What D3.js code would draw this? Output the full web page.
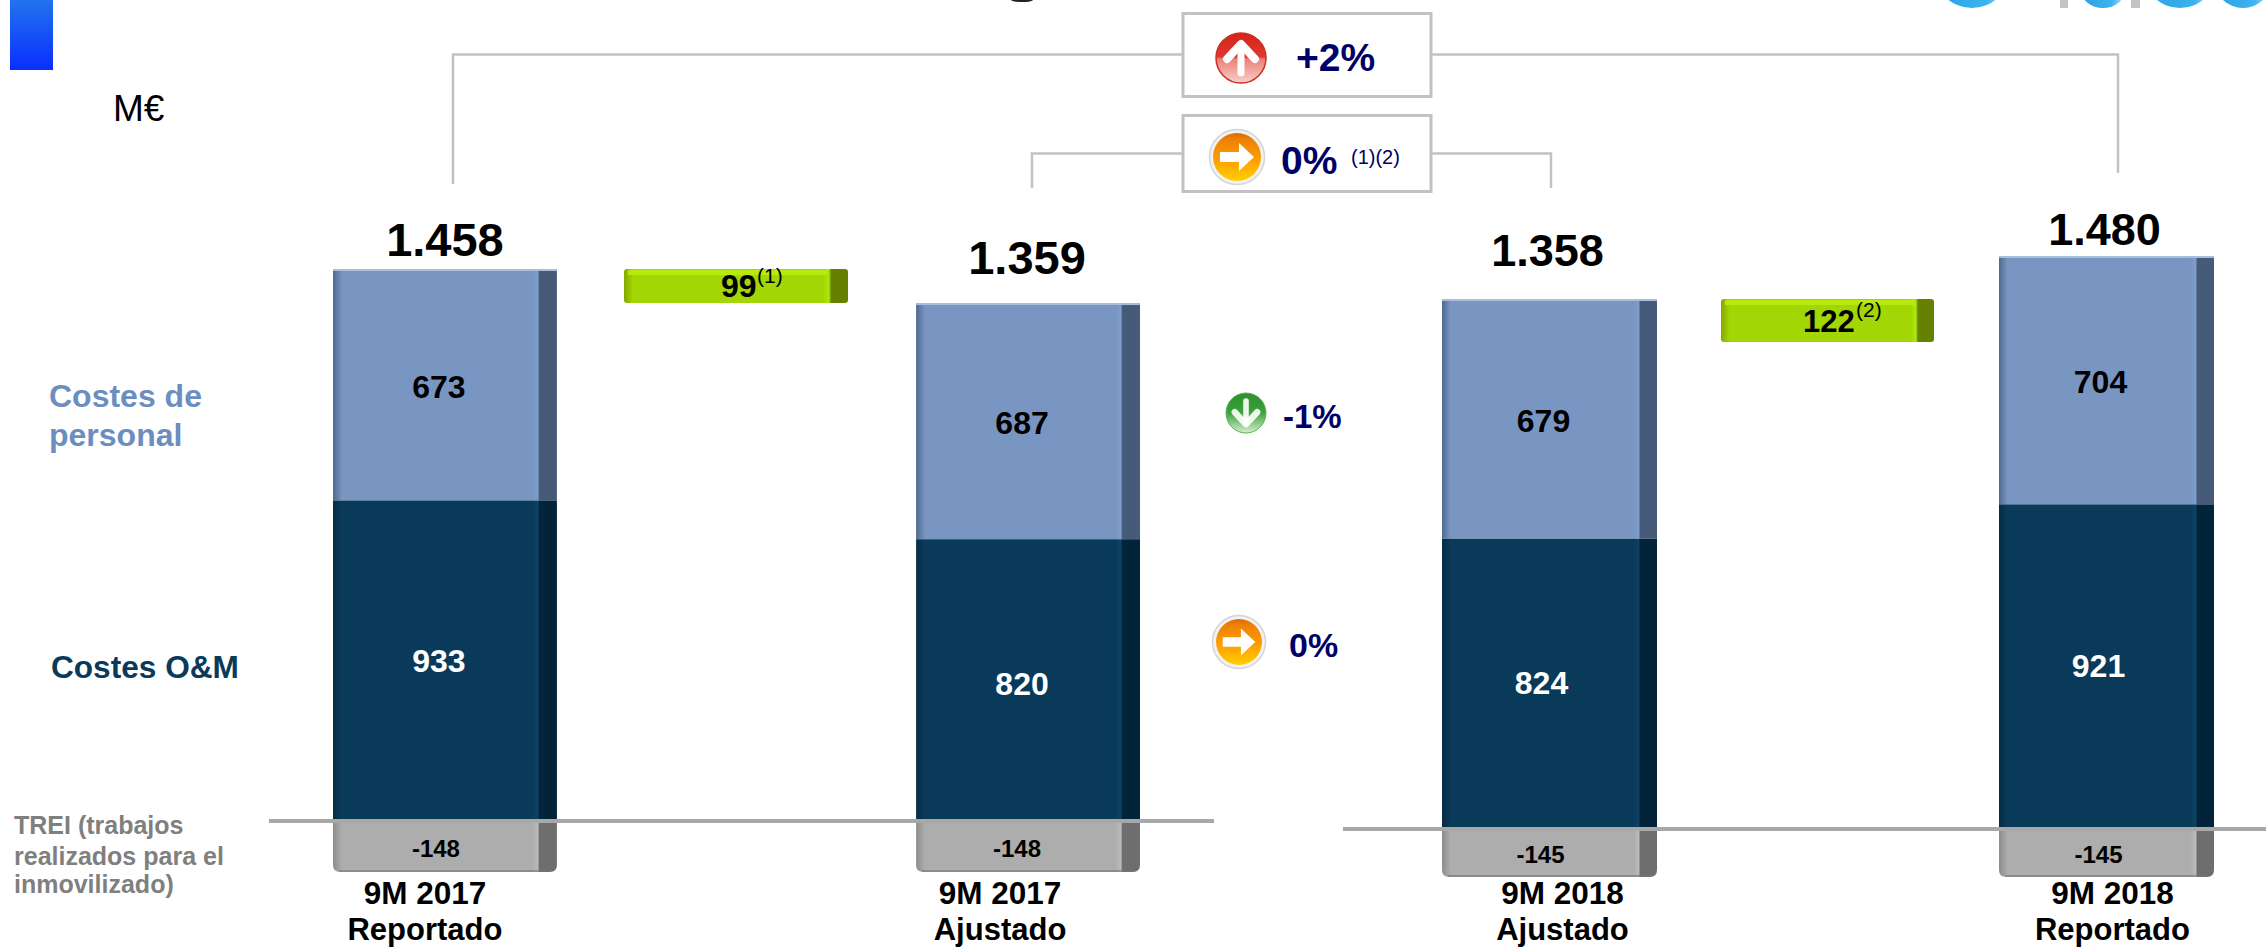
<!DOCTYPE html>
<html><head><meta charset="utf-8">
<script src="https://cdn.jsdelivr.net/npm/d3@7"></script>
<style>
html,body{margin:0;padding:0;background:#fff;overflow:hidden}
text{font-family:"Liberation Sans",Arial,sans-serif}
</style></head><body>
<svg id="c" width="2266" height="947"></svg>
<script>
// ---- data ----
const categories = ["9M 2017 Reportado","9M 2017 Ajustado","9M 2018 Ajustado","9M 2018 Reportado"];
const categoryLine1 = ["9M 2017","9M 2017","9M 2018","9M 2018"];
const categoryLine2 = ["Reportado","Ajustado","Ajustado","Reportado"];
const costesPersonal = [673,687,679,704];
const costesOM = [933,820,824,921];
const trei = [-148,-148,-145,-145];
const totals = ["1.458","1.359","1.358","1.480"];
const adjustments = [99,122];
const adjustmentNotes = ["(1)","(2)"];

// ---- layout (not data) ----
const svg=d3.select("#c");
const defs=svg.append("defs");
const yLeft=d3.scaleLinear().domain([-148,0,1606]).range([872,821,269]);
const yRight=d3.scaleLinear().domain([-145,0,1625]).range([877,829,256]);
const xLeft=d3.scaleBand().domain(categories.slice(0,2)).range([333,1140]).paddingInner(0.616);
const xRight=d3.scaleBand().domain(categories.slice(2)).range([1442,2214]).paddingInner(0.614);
const xOf=c=>xLeft.domain().includes(c)?xLeft(c):xRight(c);
const bwOf=c=>xLeft.domain().includes(c)?xLeft.bandwidth():xRight.bandwidth();
const yOf=i=>i<2?yLeft:yRight;

function bevel(id,base,shade,strip,light){
  const g=defs.append("linearGradient").attr("id",id);
  [[0,shade],[0.04,base],[0.89,base],[0.915,light],[0.922,strip],[1,strip]]
   .forEach(s=>g.append("stop").attr("offset",s[0]).attr("stop-color",s[1]));
}
bevel("gP","#7896C1","#4F6A90","#465B7A","#7E9DCB");
bevel("gO","#0A3A5A","#062C46","#02243A","#0C4266");
bevel("gT","#ADADAD","#8C8C8C","#6E6E6E","#BBBBBB");
const gl=defs.append("linearGradient").attr("id","gG");
[[0,"#84A800"],[0.04,"#A2D604"],[0.89,"#A2D604"],[0.915,"#AEE80A"],[0.925,"#668000"],[1,"#668000"]]
 .forEach(s=>gl.append("stop").attr("offset",s[0]).attr("stop-color",s[1]));
const blue=defs.append("linearGradient").attr("id","gB").attr("x2",0).attr("y2",1);
blue.append("stop").attr("offset",0).attr("stop-color","#2273EE");
blue.append("stop").attr("offset",1).attr("stop-color","#0A2FFF");
function vgrad(id,stops){
  const g=defs.append("linearGradient").attr("id",id).attr("x1",0).attr("x2",0).attr("y1",0).attr("y2",1);
  stops.forEach(s=>g.append("stop").attr("offset",s[0]).attr("stop-color",s[1]));
}
vgrad("iR",[[0,"#D4221A"],[0.48,"#E0392F"],[0.52,"#EE8078"],[1,"#F7CFCB"]]);
vgrad("iO",[[0,"#D96A04"],[0.12,"#EE7F04"],[0.6,"#FFA200"],[1,"#FFD000"]]);
vgrad("iG",[[0,"#2C8F2C"],[0.5,"#3DA23A"],[1,"#D6F0D2"]]);
const cyan=defs.append("linearGradient").attr("id","iC");
cyan.append("stop").attr("offset",0).attr("stop-color","#2A9FE2");
cyan.append("stop").attr("offset",0.7).attr("stop-color","#3CB4EE");
cyan.append("stop").attr("offset",1).attr("stop-color","#BFE4F6");

// header fragments
svg.append("rect").attr("x",10).attr("y",0).attr("width",43).attr("height",70).attr("fill","url(#gB)");
svg.append("text").attr("x",113).attr("y",121).attr("font-size",37).attr("fill","#000").text("M€");
svg.append("ellipse").attr("cx",1022).attr("cy",0).attr("rx",11).attr("ry",2).attr("fill","#222");
const logo=svg.append("g");
[[1972,-30.5,38.5],[2180,-29,37],[2243,-21,29]].forEach(c=>logo.append("circle").attr("cx",c[0]).attr("cy",c[1]).attr("r",c[2]).attr("fill","url(#iC)"));
logo.append("ellipse").attr("cx",2103).attr("cy",-10).attr("rx",22).attr("ry",18).attr("fill","url(#iC)");
[[2060,8],[2131,9]].forEach(r=>logo.append("rect").attr("x",r[0]).attr("y",0).attr("width",r[1]).attr("height",8).attr("fill","#C4C4C4"));

// connectors
const conn=svg.append("g").attr("fill","none").attr("stroke","#C2C2C2").attr("stroke-width",2.5);
conn.append("path").attr("d","M453,184V54.5H1182");
conn.append("path").attr("d","M1432,54.5H2118V173");
conn.append("path").attr("d","M1032,188V153.5H1182");
conn.append("path").attr("d","M1432,153.5H1551V188");
[[12,98],[114,193]].forEach(b=>svg.append("rect").attr("x",1183).attr("y",b[0]+1.5).attr("width",248).attr("height",b[1]-b[0]-3)
  .attr("fill","#fff").attr("stroke","#C2C2C2").attr("stroke-width",3));

// stacked bars
const rows=categories.map((c,i)=>({c,i,p:costesPersonal[i],o:costesOM[i],t:trei[i]}));
const bars=svg.append("g");
bars.selectAll("rect.o").data(rows).join("rect").attr("class","o")
  .attr("x",d=>xOf(d.c)).attr("width",d=>bwOf(d.c))
  .attr("y",d=>yOf(d.i)(d.o)).attr("height",d=>yOf(d.i)(0)-yOf(d.i)(d.o)).attr("fill","url(#gO)");
bars.selectAll("rect.p").data(rows).join("rect").attr("class","p")
  .attr("x",d=>xOf(d.c)).attr("width",d=>bwOf(d.c))
  .attr("y",d=>yOf(d.i)(d.o+d.p)).attr("height",d=>yOf(d.i)(d.o)-yOf(d.i)(d.o+d.p)).attr("fill","url(#gP)");
bars.selectAll("rect.h").data(rows).join("rect").attr("class","h")
  .attr("x",d=>xOf(d.c)).attr("width",d=>bwOf(d.c))
  .attr("y",d=>yOf(d.i)(d.o+d.p)).attr("height",2).attr("fill","#A9BEDC");
function treiPath(d){
  const x0=xOf(d.c),x1=x0+bwOf(d.c),y0=yOf(d.i)(0),y1=yOf(d.i)(d.t),r=7;
  const p=d3.path();p.moveTo(x0,y0);p.lineTo(x1,y0);p.lineTo(x1,y1-r);p.quadraticCurveTo(x1,y1,x1-r,y1);
  p.lineTo(x0+r,y1);p.quadraticCurveTo(x0,y1,x0,y1-r);p.closePath();return p.toString();
}
bars.selectAll("path.t").data(rows).join("path").attr("class","t").attr("d",treiPath).attr("fill","url(#gT)");
bars.selectAll("rect.ts").data(rows).join("rect").attr("class","ts")
  .attr("x",d=>xOf(d.c)+6).attr("width",d=>bwOf(d.c)-12)
  .attr("y",d=>yOf(d.i)(d.t)-2).attr("height",2).attr("fill","#777").attr("opacity",.6);

// zero lines
const axisLeft=[269,1214],axisRight=[1343,2266];
[[axisLeft,yLeft],[axisRight,yRight]].forEach(a=>svg.append("line")
  .attr("x1",a[0][0]).attr("x2",a[0][1]).attr("y1",a[1](0)).attr("y2",a[1](0))
  .attr("stroke","#A8A8A8").attr("stroke-width",4));

// adjustment bars
const xAdj=[d3.scaleBand().domain([adjustments[0]]).range([624,848]),d3.scaleBand().domain([adjustments[1]]).range([1721,1934])];
const adjY=[[yLeft,costesPersonal[0]+costesOM[0]],[yRight,costesPersonal[2]+costesOM[2]]];
const adj=svg.append("g");
adjustments.forEach((v,i)=>{
  const [s,top]=adjY[i];
  const y0=s(top),y1=s(top-v),x=xAdj[i](v),w=xAdj[i].bandwidth();
  adj.append("rect").attr("x",x).attr("y",y0).attr("width",w).attr("height",y1-y0).attr("rx",3).attr("fill","url(#gG)");
  adj.append("rect").attr("x",x+4).attr("y",y0+1).attr("width",w*0.89).attr("height",5).attr("fill","#BDF012").attr("opacity",.8);
});
const adjLabel=[[721,297,32,757,283,21],[1803,332,31,1856,317,21]];
adjustments.forEach((v,i)=>{
  const l=adjLabel[i];
  svg.append("text").attr("x",l[0]).attr("y",l[1]).attr("font-size",l[2]).attr("font-weight","bold").text(v);
  svg.append("text").attr("x",l[3]).attr("y",l[4]).attr("font-size",l[5]).text(adjustmentNotes[i]);
});

// value labels
const labelShift=[-6,-6,-6,-6], labelShiftO=[-6,-6,-8,-8], labelShiftT=[-9,-11,-9,-8];
const labelDyO=[11,15,10,10];
const lab=(sel,cls,x,y,fs,fill,tx)=>sel.selectAll("text."+cls).data(rows).join("text").attr("class",cls)
  .attr("x",x).attr("y",y).attr("text-anchor","middle").attr("font-weight","bold").attr("font-size",fs).attr("fill",fill).text(tx);
const cx=d=>xOf(d.c)+bwOf(d.c)/2;
lab(svg,"lp",d=>cx(d)+labelShift[d.i],d=>(yOf(d.i)(d.o)+yOf(d.i)(d.o+d.p))/2+13,32,"#000",d=>d.p);
lab(svg,"lo",d=>cx(d)+labelShiftO[d.i],d=>(yOf(d.i)(0)+yOf(d.i)(d.o))/2+labelDyO[d.i],32,"#fff",d=>d.o);
lab(svg,"lt",d=>cx(d)+labelShiftT[d.i],d=>(yOf(d.i)(0)+yOf(d.i)(d.t))/2+10,24,"#000",d=>d.t);
const totalDy=[-13,-29,-33,-11], totalDx=[0,-1,-2,-2], totalFs=[47,47,45,45];
lab(svg,"lz",d=>cx(d)+totalDx[d.i],d=>yOf(d.i)(d.o+d.p)+totalDy[d.i],d=>totalFs[d.i],"#000",d=>totals[d.i]);
const catDx=[-20,-28,13,6];
lab(svg,"c1",d=>cx(d)+catDx[d.i],904,31.5,"#000",d=>categoryLine1[d.i]);
lab(svg,"c2",d=>cx(d)+catDx[d.i],940,31,"#000",d=>categoryLine2[d.i]);

// series labels
const legendP=["Costes de","personal"];
legendP.forEach((t,i)=>svg.append("text").attr("x",49).attr("y",[407,446][i]).attr("font-size",32).attr("font-weight","bold").attr("fill","#6C8EBF").text(t));
svg.append("text").attr("x",51).attr("y",678).attr("font-size",31.6).attr("font-weight","bold").attr("fill","#0A3A5A").text("Costes O&M");
const legendT=["TREI (trabajos","realizados para el","inmovilizado)"];
legendT.forEach((t,i)=>svg.append("text").attr("x",14).attr("y",[834,865,893][i]).attr("font-size",25).attr("font-weight","bold").attr("fill","#7F7F7F").text(t));

// change icons
function icon(x,y,r,kind){
  const g=svg.append("g").attr("transform",`translate(${x},${y})`);
  if(kind==="right"){
    g.append("circle").attr("r",r+3.5).attr("fill","#F2F2F2").attr("stroke","#D4D4D4").attr("stroke-width",1.5);
    g.append("circle").attr("r",r).attr("fill","url(#iO)");
    const k=r/24;
    g.append("path").attr("transform",`scale(${k})`).attr("d","M-17,-5H2V-14L17,0L2,14V5H-17Z").attr("fill","#fff");
  } else {
    g.append("circle").attr("r",r).attr("fill",kind==="up"?"url(#iR)":"url(#iG)").attr("stroke",kind==="up"?"#C83028":"#5CB05A").attr("stroke-width",kind==="up"?1.5:1);
    const k=r/25;
    const a=g.append("g").attr("transform",`scale(${k}) rotate(${kind==="up"?0:180})`).attr("fill","none").attr("stroke","#fff").attr("stroke-linecap","round").attr("stroke-linejoin","round").attr("stroke-opacity",kind==="up"?1:.9);
    a.append("path").attr("d","M0,15V-13").attr("stroke-width",7);
    a.append("path").attr("d","M-14,1L0,-14L14,1").attr("stroke-width",8);
  }
}
const changeLabels=[
  {t:"+2%",x:1296,y:71,fs:39,icon:[1241,58,25,"up"]},
  {t:"0%",x:1281,y:174,fs:39,icon:[1237,157,24,"right"]},
  {t:"-1%",x:1283,y:428,fs:33,icon:[1246,413,20,"down"]},
  {t:"0%",x:1289,y:657,fs:34,icon:[1239,642,23,"right"]}
];
changeLabels.forEach(c=>{
  icon(...c.icon);
  svg.append("text").attr("x",c.x).attr("y",c.y).attr("font-size",c.fs).attr("font-weight","bold").attr("fill","#000066").text(c.t);
});
svg.append("text").attr("x",1351).attr("y",164).attr("font-size",20).attr("fill","#000066").text("(1)(2)");
</script>
</body></html>
